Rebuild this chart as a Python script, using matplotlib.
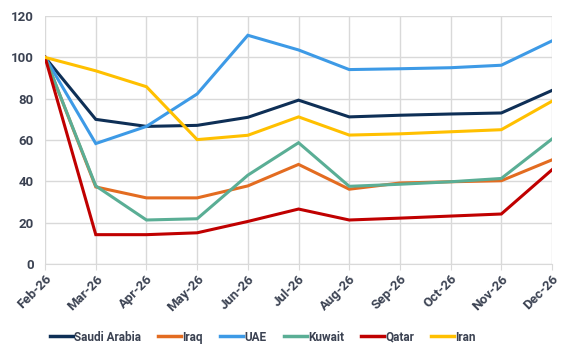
import matplotlib.pyplot as plt

months = ["Feb-26", "Mar-26", "Apr-26", "May-26", "Jun-26", "Jul-26",
          "Aug-26", "Sep-26", "Oct-26", "Nov-26", "Dec-26"]

saudi = [100, 70, 66.6, 67.1, 71, 79.3, 71.2, 72, 72.6, 73.1, 84]
iraq = [100, 37.3, 32, 32, 37.8, 48.2, 36.2, 39.2, 39.8, 40.3, 50.4]
uae = [100, 58.3, 66.6, 82.3, 110.7, 103.6, 94.1, 94.5, 95, 96.2, 108]
kuwait = [100, 37.8, 21.3, 21.9, 43, 58.7, 37.6, 38.6, 39.8, 41.4, 60.5]
qatar = [100, 14.2, 14.2, 15.1, 20.6, 26.6, 21.3, 22.2, 23.2, 24.2, 45.6]
iran = [100, 93.5, 85.8, 60.2, 62.3, 71.2, 62.4, 63, 64, 65, 78.8]

series = [
    ("Saudi Arabia", saudi, "#0e2f56"),
    ("Iraq", iraq, "#e36c21"),
    ("UAE", uae, "#3d9ae6"),
    ("Kuwait", kuwait, "#5aae95"),
    ("Qatar", qatar, "#c00000"),
    ("Iran", iran, "#ffc000"),
]

plt.rcParams['font.family'] = ['Roboto', 'DejaVu Sans']
text_col = "#3b4252"

fig = plt.figure(figsize=(5.78, 3.57), dpi=100)
ax = fig.add_axes([0.078, 0.2605, 0.877, 0.6945])

x = list(range(len(months)))
for name, vals, col in series:
    ax.plot(x, vals, color=col, lw=2.2, label=name, solid_joinstyle='miter')

ax.set_xlim(0, len(months) - 1)
ax.set_ylim(0, 120)
ax.set_yticks(range(0, 121, 20))
ax.set_xticks(x)
ax.set_xticklabels(months, rotation=45, ha='right', rotation_mode='anchor')
ax.grid(True, color="#d9d9d9", lw=1)
ax.set_axisbelow(True)

for s in ["top", "right", "left"]:
    ax.spines[s].set_visible(False)
ax.spines["bottom"].set_color("#d9d9d9")
ax.tick_params(axis='y', length=0, pad=8, labelsize=9.5, labelcolor=text_col)
ax.tick_params(axis='x', length=4, color="#d9d9d9", pad=2, labelsize=9.5, labelcolor=text_col)
for lbl in ax.get_xticklabels() + ax.get_yticklabels():
    lbl.set_fontweight('bold')

leg = fig.legend(loc='center', bbox_to_anchor=(0.455, 0.056), ncol=6, frameon=False,
                 handlelength=1.95, handletextpad=0.1, columnspacing=1.45,
                 prop={'weight': 'bold', 'size': 8.5})
for t in leg.get_texts():
    t.set_color(text_col)
for h in leg.get_lines():
    h.set_linewidth(2.5)

fig.savefig("out.png", dpi=100)
